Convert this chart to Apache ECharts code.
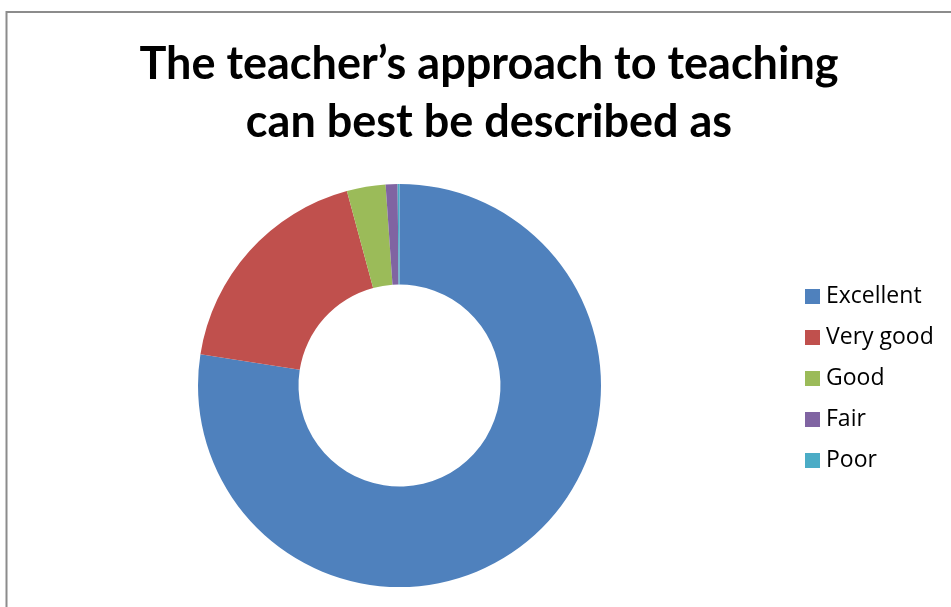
<!DOCTYPE html>
<html>
<head>
<meta charset="utf-8">
<script src="https://cdn.jsdelivr.net/npm/echarts@6/dist/echarts.min.js"></script>
<style>
html,body{margin:0;padding:0;background:#fff;}
#chart{width:951px;height:607px;}
</style>
</head>
<body>
<div id="chart"></div>
<script>
const categories = ['Excellent', 'Very good', 'Good', 'Fair', 'Poor'];
const values = [77.4, 18.3, 3.1, 0.95, 0.15];
const colors = ['#4F81BD', '#C0504D', '#9BBB59', '#8064A2', '#4BACC6'];
const titleText = 'The teacher\u2019s approach to teaching\ncan best be described as';

const chart = echarts.init(document.getElementById('chart'));
chart.setOption({
  animation: false,
  backgroundColor: '#fff',
  color: colors,
  graphic: [{
    type: 'rect',
    shape: {x: 6.5, y: 12, width: 1000, height: 700},
    style: {fill: 'none', stroke: '#8c8c8c', lineWidth: 2},
    silent: true
  }],
  title: {
    text: titleText,
    left: 484,
    top: 30,
    textAlign: 'center',
    textStyle: {
      fontFamily: 'Lato',
      fontWeight: 'bold',
      fontSize: 45,
      lineHeight: 58,
      color: '#000'
    }
  },
  legend: {
    orient: 'vertical',
    left: 800,
    top: 280,
    itemWidth: 15,
    itemHeight: 15,
    itemGap: 18,
    icon: 'rect',
    textStyle: {fontFamily: 'Open Sans', fontSize: 23, color: '#000', padding: [0,0,0,1]},
    data: categories
  },
  series: [{
    type: 'pie',
    center: [399.5, 385.5],
    radius: [101, 201.5],
    startAngle: 90,
    clockwise: true,
    label: {show: false},
    labelLine: {show: false},
    silent: true,
    itemStyle: {borderWidth: 0},
    data: categories.map((c, i) => ({name: c, value: values[i]}))
  }]
});
</script>
</body>
</html>
